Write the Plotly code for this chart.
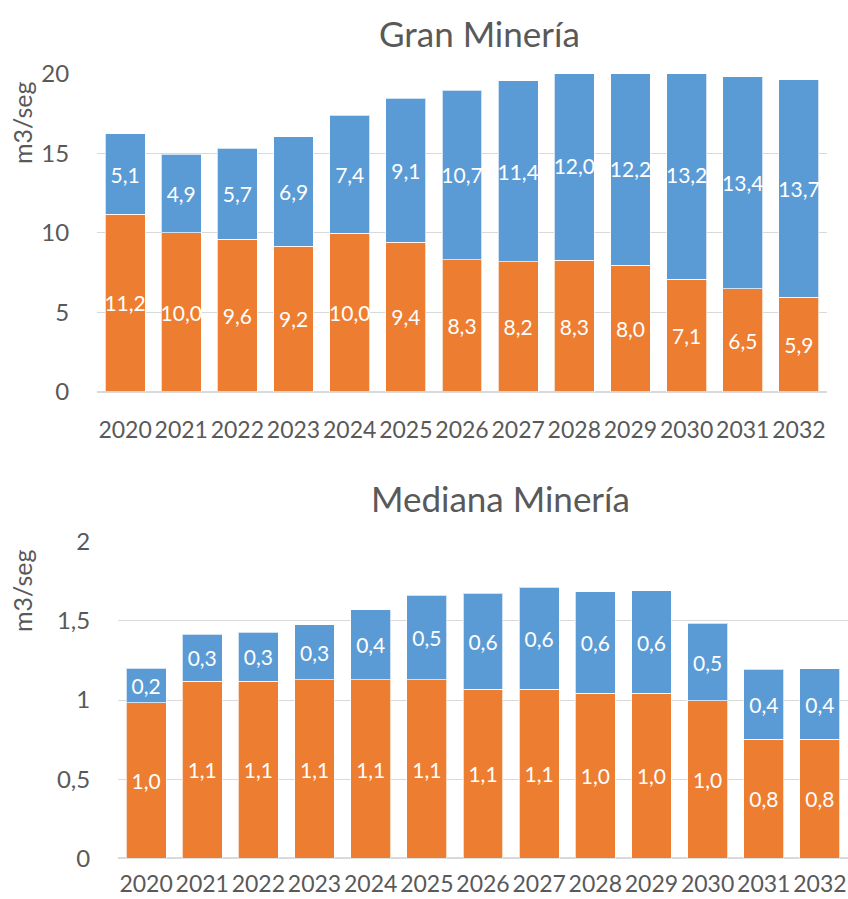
import plotly.graph_objects as go

years = [str(y) for y in range(2020, 2033)]

# Gran Minería (m3/seg)
gran_orange = [11.17, 10.01, 9.6, 9.17, 9.97, 9.41, 8.31, 8.17, 8.26, 7.96, 7.08, 6.47, 5.94]
gran_blue = [5.06, 4.94, 5.73, 6.89, 7.43, 9.07, 10.67, 11.41, 12.02, 12.2, 13.2, 13.37, 13.69]

# Mediana Minería (m3/seg)
med_orange = [0.983, 1.118, 1.118, 1.128, 1.128, 1.128, 1.068, 1.068, 1.042, 1.042, 0.994, 0.752, 0.752]
med_blue = [0.219, 0.297, 0.31, 0.346, 0.441, 0.535, 0.606, 0.644, 0.642, 0.647, 0.491, 0.442, 0.444]

top_ticks = [0, 5, 10, 15, 20]
bottom_ticks = [0, 0.5, 1, 1.5, 2]

ORANGE = "#ED7D31"
BLUE = "#5B9BD5"
GRID = "#D9D9D9"
TXT = "#595959"
FONT = "Lato"

W, H = 848, 899

def px_x(p):
    return p / W

def px_y(p):
    return (H - p) / H

fig = go.Figure()

def add_bars(x, y, color, xa, ya):
    fig.add_trace(go.Bar(
        x=x, y=y, xaxis=xa, yaxis=ya,
        marker=dict(color=color, line=dict(color="rgba(255,255,255,0.7)", width=1)),
        texttemplate="%{y:.1f}", textposition="inside", insidetextanchor="middle",
        textangle=0, constraintext="none",
        textfont=dict(family=FONT, size=21, color="white"),
        showlegend=False, hoverinfo="skip",
    ))

add_bars(years, gran_orange, ORANGE, "x", "y")
add_bars(years, gran_blue, BLUE, "x", "y")
add_bars(years, med_orange, ORANGE, "x2", "y2")
add_bars(years, med_blue, BLUE, "x2", "y2")

xcommon = dict(type="category", tickangle=0, showgrid=False, showline=False, zeroline=False,
               automargin=False, ticks="outside", tickcolor="rgba(0,0,0,0)",
               tickfont=dict(family=FONT, size=23, color=TXT))
ycommon = dict(showgrid=True, gridcolor=GRID, gridwidth=1, zeroline=True, zerolinecolor=GRID,
               zerolinewidth=1.5, showline=False, automargin=False, ticks="outside", ticklen=22,
               tickcolor="rgba(0,0,0,0)", tickfont=dict(family=FONT, size=24, color=TXT))

fig.update_layout(
    width=W, height=H, margin=dict(l=0, r=0, t=0, b=0),
    paper_bgcolor="white", plot_bgcolor="white",
    barmode="stack", bargap=0.29, separators=",.",
    xaxis=dict(domain=[px_x(97), px_x(827)], anchor="y", ticklen=18, **xcommon),
    yaxis=dict(domain=[px_y(391.7), px_y(74)], anchor="x", range=[0, 20],
               tickvals=top_ticks, **ycommon),
    xaxis2=dict(domain=[px_x(118), 1.0], anchor="y2", ticklen=5, **xcommon),
    yaxis2=dict(domain=[px_y(858.3), px_y(541.7)], anchor="x2", range=[0, 2],
                tickvals=bottom_ticks, **ycommon),
    annotations=[
        dict(text="Gran Minería", x=px_x(479), y=px_y(33), xref="paper", yref="paper",
             showarrow=False, xanchor="center", yanchor="middle",
             font=dict(family=FONT, size=35, color=TXT)),
        dict(text="Mediana Minería", x=px_x(500), y=px_y(498), xref="paper", yref="paper",
             showarrow=False, xanchor="center", yanchor="middle",
             font=dict(family=FONT, size=35, color=TXT)),
        dict(text="m3/seg", x=px_x(22), y=px_y(123), xref="paper", yref="paper",
             showarrow=False, textangle=-90, xanchor="center", yanchor="middle",
             font=dict(family=FONT, size=25, color=TXT)),
        dict(text="m3/seg", x=px_x(22), y=px_y(591), xref="paper", yref="paper",
             showarrow=False, textangle=-90, xanchor="center", yanchor="middle",
             font=dict(family=FONT, size=25, color=TXT)),
    ],
)

fig.write_html("out.html")
